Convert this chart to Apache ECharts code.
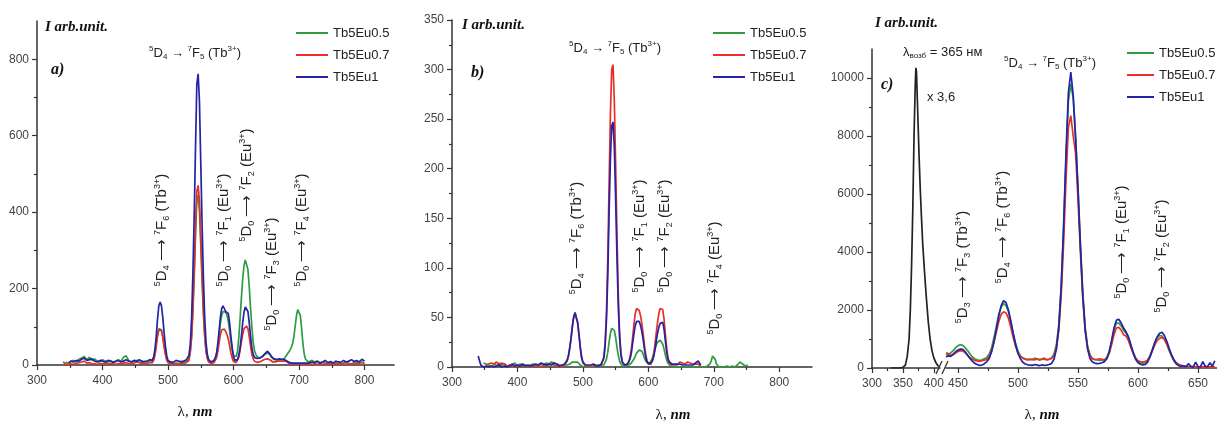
<!DOCTYPE html>
<html>
<head>
<meta charset="utf-8">
<script src="https://cdn.jsdelivr.net/npm/echarts@6/dist/echarts.min.js"></script>
<style>html,body{margin:0;padding:0;background:#fff}#c{width:1217px;height:426px}</style>
</head>
<body>
<div id="c"></div>
<script>
// ---------- DATA ----------
const NAMES = ['Tb5Eu0.5', 'Tb5Eu0.7', 'Tb5Eu1'];

// Panel a
const wlA = [340,344,348,352,356,360,364,368,372,376,380,384,388,392,396,400,404,408,412,416,420,424,428,432,436,440,444,448,452,456,460,464,468,472,
474,476,478,480,482,484,486,488,490,492,494,496,498,500,502,
504,506,508,510,512,514,516,518,520,522,524,526,528,530,
532,534,536,538,540,542,544,546,548,550,552,554,556,558,560,562,
564,566,568,570,572,574,576,578,580,582,584,586,588,590,592,594,596,598,600,
602,604,606,608,610,612,614,616,618,620,622,624,626,628,630,632,634,636,638,640,
642,644,646,648,650,652,654,656,658,660,662,664,666,668,670,672,674,676,678,680,
682,684,686,688,690,692,694,696,698,700,702,704,706,708,710,712,714,716,
720,724,728,732,736,740,744,748,752,756,760,764,768,772,776,780,784,788,792,796,800];
const greenA = [null,8,3,10,12,8,15,18,22,14,20,12,16,10,8,14,10,6,12,8,10,14,9,20,24,12,8,10,12,8,6,10,8,12,
8,10,15,30,55,80,95,100,92,75,50,30,15,8,6,
5,6,4,7,5,6,4,5,6,5,7,8,10,14,
15,35,72,140,230,340,430,445,405,315,220,135,75,36,18,10,
8,7,8,10,15,25,45,75,110,130,140,142,138,130,115,90,62,40,25,
20,22,35,70,120,175,225,260,275,272,250,205,150,100,60,38,28,22,20,18,
20,22,25,28,30,32,30,26,20,16,14,13,14,12,13,15,14,16,18,22,
28,32,38,45,55,72,100,128,145,148,130,95,55,28,15,10,8,10,
12,8,10,6,8,5,4,6,3,5,4,2,5,8,4,3,6,10,5,8,6];
const redA = [8,2,0,3,2,4,6,8,10,5,6,4,3,2,4,3,5,2,4,3,2,4,3,5,6,4,3,5,8,6,4,3,4,6,
5,6,12,25,48,75,92,96,90,72,48,28,14,6,4,
3,4,2,5,3,4,2,3,5,3,4,3,6,10,
12,35,75,150,245,360,455,470,430,335,235,145,80,38,18,8,
5,4,5,6,10,18,35,58,80,92,96,94,88,80,68,50,32,18,9,
6,6,10,20,38,60,80,95,100,102,95,75,50,28,16,10,8,7,6,8,
10,12,13,15,16,16,15,13,10,8,7,8,9,10,9,10,12,10,8,10,
8,5,3,2,2,2,2,3,2,3,2,3,2,2,3,2,2,3,
2,3,2,4,2,3,2,3,2,4,3,2,3,2,4,3,2,5,3,2,4];
const blueA = [null,null,6,10,8,12,10,15,18,12,14,16,10,8,12,10,8,12,10,7,9,12,8,10,14,10,8,12,10,14,10,8,10,14,
10,12,20,40,75,120,155,165,155,125,85,50,25,12,8,
8,10,7,9,12,8,10,6,9,8,10,12,14,18,
25,55,120,240,390,570,735,762,690,530,370,230,125,60,28,14,
10,8,9,12,18,30,55,90,125,148,155,150,140,142,135,110,75,45,22,
12,10,14,25,45,75,110,138,152,155,140,110,75,45,28,20,18,17,16,18,
20,22,26,30,34,36,33,28,22,18,16,15,14,15,16,14,15,16,14,12,
10,8,6,5,5,4,5,6,5,6,5,6,5,6,5,6,5,6,
8,6,10,5,8,12,6,9,5,10,8,7,12,8,10,14,9,12,8,15,10];

// Panel b
const wlB = [340,344,348,352,356,360,364,368,372,376,380,384,388,392,396,400,404,408,412,416,420,424,428,432,436,440,444,448,452,456,460,464,468,472,
474,476,478,480,482,484,486,488,490,492,494,496,498,500,502,
504,506,508,510,512,514,516,518,520,522,524,526,528,530,
532,534,536,538,540,542,544,546,548,550,552,554,556,558,560,562,
564,566,568,570,572,574,576,578,580,582,584,586,588,590,592,594,596,598,600,
602,604,606,608,610,612,614,616,618,620,622,624,626,628,630,632,634,636,638,640,
642,644,646,648,650,652,654,656,658,660,662,664,666,668,670,672,674,676,678,680,
682,684,686,688,690,692,694,696,698,700,702,704,706,708,710,712,714,716,
720,724,728,732,736,740,744,748,752];
const greenB = [null,null,4,3,2,0,3,1,4,2,3,1,0,2,4,1,3,2,0,1,2,3,2,1,3,2,4,3,5,4,3,2,1,2,
1,2,2,3,4,5,6,5,6,5,3,2,1,0,1,
0,1,0,1,0,1,0,1,0,1,0,1,2,3,
2,4,8,15,25,34,39,40,37,30,20,12,6,3,2,1,
1,1,2,2,3,4,6,8,11,14,16,17,17,16,13,9,6,4,3,
4,6,9,13,18,22,25,27,27,26,23,18,12,7,4,2,1,1,0,1,
0,1,0,1,0,1,0,1,0,1,0,1,0,1,0,1,0,1,0,1,
0,1,0,2,1,2,3,6,11,12,8,3,1,0,1,0,1,0,
1,0,1,0,2,5,3,1,2];
const redB = [null,null,null,2,3,4,3,5,2,4,3,1,2,0,1,2,0,1,2,1,0,1,2,1,0,2,1,2,3,2,1,0,1,2,
4,6,11,19,29,41,50,54,52,44,32,19,9,4,2,
1,2,1,2,1,3,1,2,2,1,2,1,2,4,
10,25,55,110,185,255,300,305,268,205,135,75,35,15,6,3,
2,2,3,5,10,18,30,43,54,59,60,57,52,44,34,22,12,6,3,
2,3,6,12,22,34,45,54,59,60,58,48,33,19,9,4,3,2,3,2,
3,2,4,5,3,4,5,3,4,5,3,4,2,3,2,3,4,3,2,1,
null,null,null,null,null,null,null,null,null,null,null,null,null,null,null,null,null,null,
null,null,null,null,null,null,null,null,null];
const blueB = [11,2,0,1,0,1,0,1,2,0,1,0,1,3,1,2,1,3,1,2,1,2,3,2,4,3,2,3,2,4,3,1,2,3,
5,7,12,20,30,42,51,55,53,45,33,20,10,5,3,
2,1,2,1,2,1,3,2,1,2,1,2,3,6,
9,22,48,92,155,210,243,247,222,170,112,62,30,13,5,3,
2,3,3,4,8,14,24,34,42,46,47,46,42,36,28,18,10,5,3,
3,4,6,10,17,26,34,40,44,46,45,38,26,15,8,5,4,3,4,3,
2,3,2,3,4,2,3,2,3,2,3,2,3,2,3,4,5,6,4,2,
null,null,null,null,null,null,null,null,null,null,null,null,null,null,null,null,null,null,
null,null,null,null,null,null,null,null,null];

// Panel c : excitation band (x 3,6)
const wlK = [330,340,345,350,354,357,360,362,364,366,368,370,371,372,374,376,378,380,382,385,388,391,394,397,400,403,406,408];
const excitK = [0,0,0,20,100,400,1000,2000,3500,5500,8000,9800,10350,10200,8800,7400,6200,5200,4300,3300,2400,1600,1000,600,350,200,100,50];

// Panel c : emission
const wlC = [440,442,444,446,448,450,452,454,456,458,460,462,464,466,468,470,472,474,476,478,
480,482,484,486,488,490,492,494,496,498,500,502,504,506,508,510,512,514,516,518,
520,522,524,526,528,530,532,534,536,538,540,542,544,546,548,550,552,554,556,558,
560,562,564,566,568,570,572,574,576,578,580,582,584,586,588,590,592,594,596,598,
600,602,604,606,608,610,612,614,616,618,620,622,624,626,628,630,632,634,636,638,
640,642,644,646,648,650,652,654,656,658,660,662,664];
const greenC = [450,480,520,600,700,770,800,780,700,600, 480,380,320,280,260,280,320,360,480,700,
1050,1450,1850,2100,2220,2150,1950,1600,1200,850, 580,420,350,320,300,310,290,340,300,280,
320,300,290,310,350,480,800,1500,2800,4800, 7200,9200,9800,9300,8000,6200,4300,2600,1400,750,
450,330,300,280,260,270,290,360,560,900, 1300,1550,1550,1450,1300,1200,1050,800,550,350,
230,180,170,180,260,420,650,880,1050,1120, 1100,1000,820,600,400,250,150,100,80,60,
50,40,50,40,30,40,30,40,30,40, 30,40,30];
const redC = [520,500,430,450,520,570,600,590,520,430, 360,300,260,240,230,250,270,300,400,600,
900,1250,1600,1850,1940,1900,1720,1400,1050,750, 520,400,330,300,280,290,300,280,320,290,
300,340,280,300,330,420,700,1300,2500,4300, 6500,8300,8700,8000,7400,5800,4000,2400,1300,700,
430,320,290,300,320,300,280,330,500,800, 1150,1380,1400,1300,1150,1100,950,720,500,330,
250,220,200,220,280,400,600,800,950,1020, 1050,980,820,620,430,280,180,120,90,70,
60,50,40,50,40,30,40,30,40,30, 40,30,40];
const blueC = [380,420,400,480,560,620,650,640,560,450, 330,230,160,120,90,100,150,220,330,560,
900,1350,1800,2150,2320,2260,2000,1620,1180,800, 500,320,200,140,110,100,90,120,100,80,
110,90,100,120,160,300,650,1400,2800,4900, 7400,9500,10200,9400,7900,6200,4200,2500,1300,650,
330,210,170,150,160,180,220,320,560,950, 1380,1650,1680,1550,1380,1250,1080,800,520,300,
180,130,110,120,200,380,620,880,1080,1200, 1230,1120,920,680,450,260,140,80,50,80,
40,150,60,30,200,50,40,220,60,50, 180,60,250];

// Tick values
const xTicksAB = [300,400,500,600,700,800];
const xMinorAB = [350,450,550,650,750];
const yTicksA = [0,200,400,600,800];
const yMinorA = [100,300,500,700];
const yTicksB = [0,50,100,150,200,250,300,350];
const yMinorB = [25,75,125,175,225,275,325];
const xTicksC1 = [300,350,400];
const xMinorC1 = [325,375];
const xTicksC2 = [450,500,550,600,650];
const xMinorC2 = [475,525,575,625];
const yTicksC = [0,2000,4000,6000,8000,10000];
const yMinorC = [1000,3000,5000,7000,9000];

// ---------- STYLE / LAYOUT ----------
const SANS = '"Liberation Sans", Arial, sans-serif';
const SERIF = '"Liberation Serif", "Times New Roman", serif';
const COLORS = ['#2e9c3f', '#e8302b', '#2323a8'];
const AX = '#333';

function axisPair(dim, gridIndex, min, max, majors, minors) {
  const base = {type: 'value', gridIndex, min, max, position: dim === 'x' ? 'bottom' : 'left',
    splitLine: {show: false}, scale: false};
  const major = Object.assign({}, base, {
    axisLine: {show: true, onZero: false, lineStyle: {color: AX, width: 1.5}},
    axisTick: {show: true, inside: false, length: 5, customValues: majors, lineStyle: {color: AX, width: 1.2}},
    axisLabel: {show: true, customValues: majors, color: '#444', fontSize: 12, fontFamily: SANS,
      margin: dim === 'x' ? 10 : 8, formatter: v => String(v)}
  });
  const minor = Object.assign({}, base, {
    axisLine: {show: false, onZero: false},
    axisTick: {show: true, inside: false, length: 3, customValues: minors, lineStyle: {color: AX, width: 1.2}},
    axisLabel: {show: false}
  });
  return [major, minor];
}

const grids = [
  {left: 37, top: 21, width: 357, height: 344},    // a
  {left: 452, top: 20, width: 360, height: 347},   // b
  {left: 872, top: 49, width: 68, height: 319},    // c left segment
  {left: 946, top: 49, width: 276, height: 319}    // c right segment
].map(g => Object.assign({containLabel: false, outerBoundsMode: 'none', show: false}, g));

const xAxes = [].concat(
  axisPair('x', 0, 300, 845, xTicksAB, xMinorAB),
  axisPair('x', 1, 300, 850, xTicksAB, xMinorAB),
  axisPair('x', 2, 300, 410, xTicksC1, xMinorC1),
  axisPair('x', 3, 440, 670, xTicksC2, xMinorC2)
);
const yAxes = [].concat(
  axisPair('y', 0, 0, 900, yTicksA, yMinorA),
  axisPair('y', 1, 0, 350, yTicksB, yMinorB),
  axisPair('y', 2, 0, 11000, yTicksC, yMinorC),
  [{type: 'value', gridIndex: 3, min: 0, max: 11000, show: false}]
);

function line(name, color, xs, ys, xi, yi) {
  return {type: 'line', name, xAxisIndex: xi, yAxisIndex: yi,
    data: xs.map((x, i) => [x, ys[i] == null ? '-' : ys[i]]),
    showSymbol: false, symbol: 'none', connectNulls: false, silent: true,
    lineStyle: {color, width: 1.7}, itemStyle: {color}};
}

const series = [
  line(NAMES[0], COLORS[0], wlA, greenA, 0, 0),
  line(NAMES[1], COLORS[1], wlA, redA, 0, 0),
  line(NAMES[2], COLORS[2], wlA, blueA, 0, 0),
  line(NAMES[0], COLORS[0], wlB, greenB, 2, 2),
  line(NAMES[1], COLORS[1], wlB, redB, 2, 2),
  line(NAMES[2], COLORS[2], wlB, blueB, 2, 2),
  line('excitation', '#222', wlK, excitK, 4, 4),
  line(NAMES[0], COLORS[0], wlC, greenC, 6, 6),
  line(NAMES[1], COLORS[1], wlC, redC, 6, 6),
  line(NAMES[2], COLORS[2], wlC, blueC, 6, 6)
];

function legend(left, top, w) {
  return {data: NAMES, orient: 'vertical', left, top, icon: 'rect', itemWidth: w || 32, itemHeight: 2,
    itemGap: 6, selectedMode: false, padding: 0,
    textStyle: {fontSize: 13, fontFamily: SANS, color: '#222', lineHeight: 16}};
}

const RICH = {
  s: {fontSize: 9, lineHeight: 9, verticalAlign: 'top', fontFamily: SANS, fill: '#222'},
  b: {fontSize: 9, lineHeight: 9, verticalAlign: 'bottom', fontFamily: SANS, fill: '#222'},
  n: {fontSize: 15, lineHeight: 18, fontFamily: SANS, fill: '#222'},
  t: {fontSize: 13, lineHeight: 16, fontFamily: SANS, fill: '#222'},
  ts: {fontSize: 8, lineHeight: 8, verticalAlign: 'top', fontFamily: SANS, fill: '#222'},
  tb: {fontSize: 8, lineHeight: 8, verticalAlign: 'bottom', fontFamily: SANS, fill: '#222'}
};

function trans(d, dn, f, fn, ion) {
  return '{s|' + d + '}{n|D}{b|' + dn + '}{n| \u27F6 }{s|' + f + '}{n|F}{b|' + fn + '}{n| (' + ion + '}{s|3+}{n|)}';
}
function top5() {
  return '{ts|5}{t|D}{tb|4}{t| \u2192 }{ts|7}{t|F}{tb|5}{t| (Tb}{ts|3+}{t|)}';
}
function vlab(x, y, txt) {
  return {type: 'text', x, y, rotation: Math.PI / 2, silent: true,
    style: {text: txt, rich: RICH, align: 'center', verticalAlign: 'middle', fill: '#222', fontSize: 15, fontFamily: SANS}};
}
function hlab(x, y, txt, align) {
  return {type: 'text', x, y, silent: true,
    style: {text: txt, rich: RICH, align: align || 'center', verticalAlign: 'middle', fill: '#222', fontSize: 13, fontFamily: SANS}};
}
function ttl(x, y, txt, size, align) {
  return {type: 'text', x, y, silent: true,
    style: {text: txt, align: align || 'left', verticalAlign: 'middle', fill: '#111',
      font: 'italic bold ' + size + 'px ' + SERIF}};
}
function xname(x, y) {
  return {type: 'text', x, y, silent: true,
    style: {text: '{l|\u03BB, }{i|nm}', align: 'center', verticalAlign: 'middle',
      rich: {l: {fontSize: 15, fontFamily: SERIF, fill: '#111'},
             i: {fontSize: 15, fontFamily: SERIF, fontStyle: 'italic', fontWeight: 'bold', fill: '#111'}}}};
}

const graphic = [
  ttl(45, 27, 'I arb.unit.', 15), ttl(462, 25, 'I arb.unit.', 15), ttl(875, 23, 'I arb.unit.', 15),
  ttl(51, 70, 'a)', 16), ttl(471, 73, 'b)', 16), ttl(881, 85, 'c)', 16),
  xname(195, 412), xname(673, 415), xname(1042, 415),
  // panel a annotations
  hlab(195, 53, top5()),
  vlab(162, 230, trans(5, 4, 7, 6, 'Tb')),
  vlab(224, 230, trans(5, 0, 7, 1, 'Eu')),
  vlab(247, 185, trans(5, 0, 7, 2, 'Eu')),
  vlab(272, 274, trans(5, 0, 7, 3, 'Eu')),
  vlab(302, 230, trans(5, 0, 7, 4, 'Eu')),
  // panel b annotations
  hlab(615, 48, top5()),
  vlab(577, 238, trans(5, 4, 7, 6, 'Tb')),
  vlab(640, 236, trans(5, 0, 7, 1, 'Eu')),
  vlab(665, 236, trans(5, 0, 7, 2, 'Eu')),
  vlab(715, 278, trans(5, 0, 7, 4, 'Eu')),
  // panel c annotations
  hlab(1050, 63, top5()),
  vlab(963, 267, trans(5, 3, 7, 3, 'Tb')),
  vlab(1003, 227, trans(5, 4, 7, 6, 'Tb')),
  vlab(1122, 242, trans(5, 0, 7, 1, 'Eu')),
  vlab(1162, 256, trans(5, 0, 7, 2, 'Eu')),
  hlab(903, 52, '{t|\u03BB}{tb|\u0432\u043E\u0437\u0431}{t| = 365 \u043D\u043C}', 'left'),
  hlab(927, 97, '{t|x 3,6}', 'left'),
  // axis break marks
  {type: 'line', silent: true, shape: {x1: 936, y1: 374, x2: 942, y2: 361}, style: {stroke: '#333', lineWidth: 1.3}},
  {type: 'line', silent: true, shape: {x1: 942, y1: 374, x2: 948, y2: 361}, style: {stroke: '#333', lineWidth: 1.3}}
];

const option = {
  backgroundColor: '#fff',
  animation: false,
  grid: grids,
  xAxis: xAxes,
  yAxis: yAxes,
  legend: [legend(296, 25), legend(713, 25), legend(1127, 45, 27)],
  series,
  graphic
};

const chart = echarts.init(document.getElementById('c'), null, {renderer: 'canvas'});
chart.setOption(option);
</script>
</body>
</html>
